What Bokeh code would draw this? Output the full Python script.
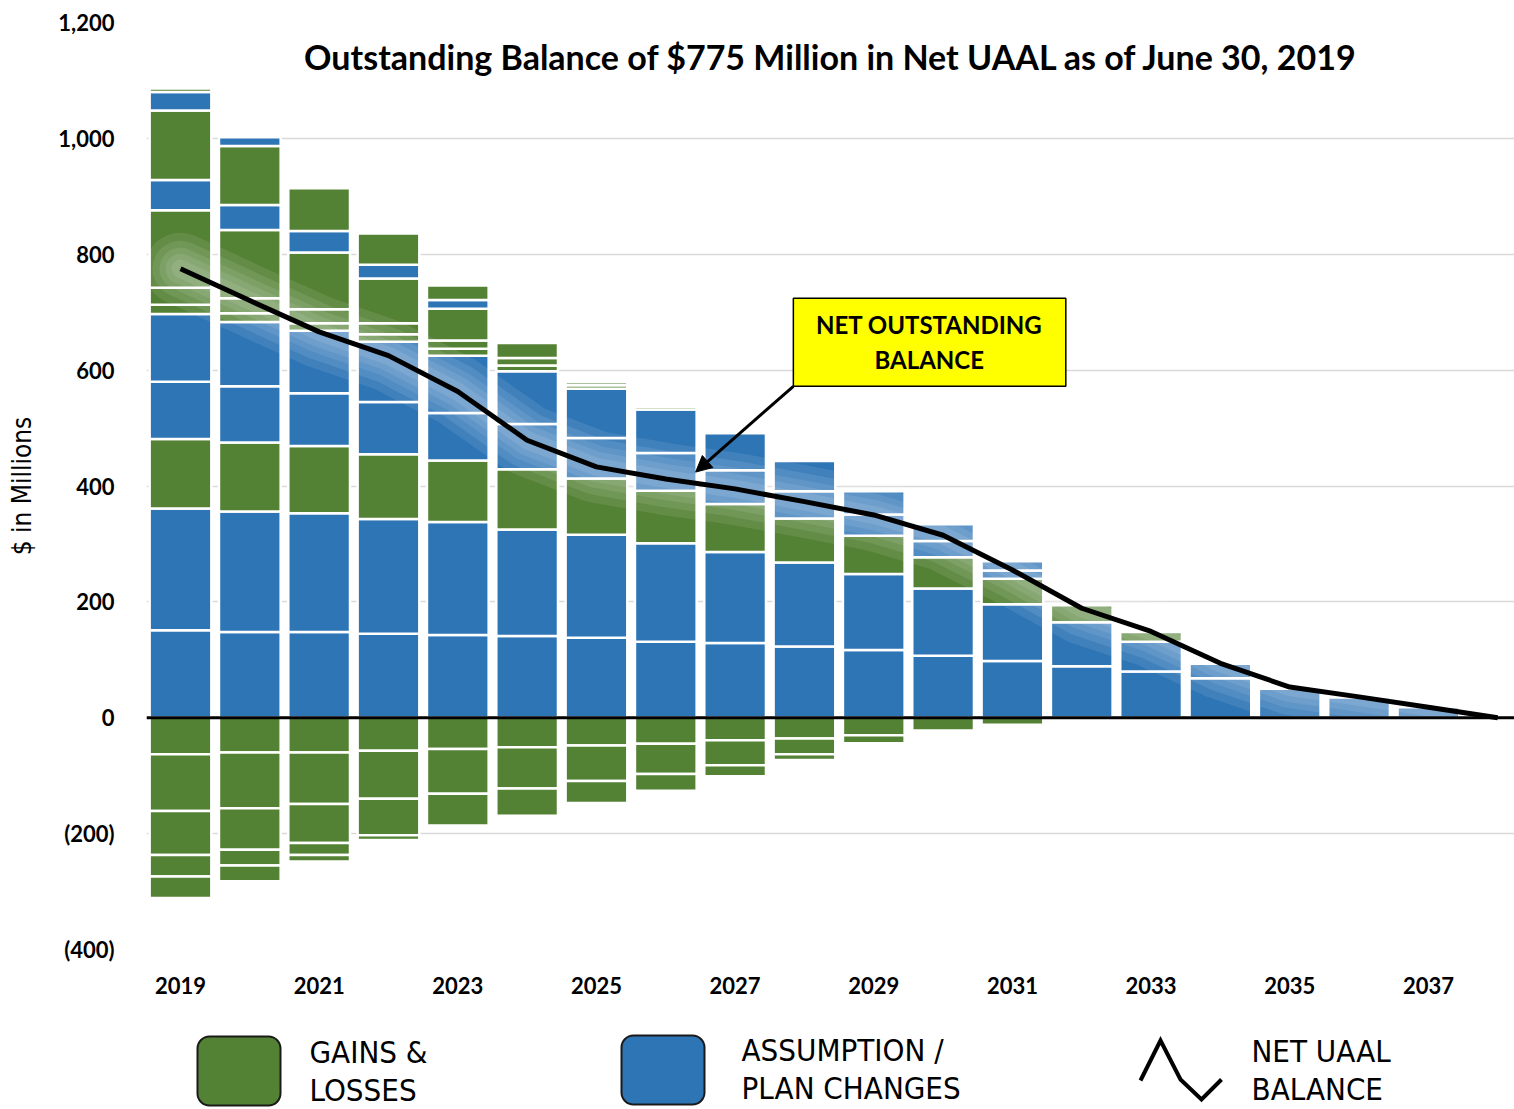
from bokeh.plotting import figure
from bokeh.models import ColumnDataSource, Range1d, FixedTicker, Span, Label, Arrow, NormalHead
from bokeh.layouts import column
from bokeh.embed import file_html
from bokeh.resources import INLINE
from bokeh.core.properties import value

# ---------------- data ----------------
years = list(range(2019, 2039))

# positive amortization layers, stacked bottom-up ($ millions)
layer_01 = [151, 148, 148, 145, 143, 141, 138, 131, 129, 123, 117, 107, 98, 89, 80, 68, 50, 35, 18, 0]
layer_02 = [210, 208, 205, 198, 195, 184, 178, 170, 157, 145, 131, 116, 98, 76, 51, 25, 0, 0, 0, 0]
layer_03 = [120, 119, 116, 112, 106, 104, 97, 91, 83, 76, 66, 54, 44, 29, 17, 0, 0, 0, 0, 0]
layer_04 = [99, 97, 91, 90, 82, 78, 70, 65, 58, 47, 37, 28, 14, 0, 0, 0, 0, 0, 0, 0]
layer_05 = [117, 111, 108, 104, 99, 91, 85, 75, 64, 52, 40, 29, 16, 0, 0, 0, 0, 0, 0, 0]
layer_06 = [16, 15, 13, 13, 12, 10, 6, 5, 0, 0, 0, 0, 0, 0, 0, 0, 0, 0, 0, 0]
layer_07 = [29, 26, 24, 19, 14, 13, 5, 0, 0, 0, 0, 0, 0, 0, 0, 0, 0, 0, 0, 0]
layer_08 = [134, 118, 98, 77, 55, 26, 0, 0, 0, 0, 0, 0, 0, 0, 0, 0, 0, 0, 0, 0]
layer_09 = [52, 43, 37, 24, 15, 0, 0, 0, 0, 0, 0, 0, 0, 0, 0, 0, 0, 0, 0, 0]
layer_10 = [120, 102, 74, 54, 25, 0, 0, 0, 0, 0, 0, 0, 0, 0, 0, 0, 0, 0, 0, 0]
layer_11 = [32, 15, 0, 0, 0, 0, 0, 0, 0, 0, 0, 0, 0, 0, 0, 0, 0, 0, 0, 0]
layer_12 = [6, 0, 0, 0, 0, 0, 0, 0, 0, 0, 0, 0, 0, 0, 0, 0, 0, 0, 0, 0]
pos_layers = [layer_01, layer_02, layer_03, layer_04, layer_05, layer_06,
              layer_07, layer_08, layer_09, layer_10, layer_11, layer_12]
pos_kinds = ["plan", "plan", "gain", "plan", "plan", "gain",
             "gain", "gain", "plan", "gain", "plan", "gain"]

# negative (gain) layers, stacked downward from zero (magnitudes)
neg_01 = [63, 60, 60, 57, 54, 51, 48, 45, 39, 36, 30, 22, 12, 4, 0, 0, 0, 0, 0, 0]
neg_02 = [98, 96, 89, 83, 77, 71, 61, 52, 43, 27, 14, 0, 0, 0, 0, 0, 0, 0, 0, 0]
neg_03 = [76, 72, 67, 63, 55, 47, 38, 29, 19, 10, 0, 0, 0, 0, 0, 0, 0, 0, 0, 0]
neg_04 = [37, 27, 21, 8, 0, 0, 0, 0, 0, 0, 0, 0, 0, 0, 0, 0, 0, 0, 0, 0]
neg_05 = [37, 27, 11, 0, 0, 0, 0, 0, 0, 0, 0, 0, 0, 0, 0, 0, 0, 0, 0, 0]
neg_layers = [neg_01, neg_02, neg_03, neg_04, neg_05]

net_balance = [775, 720, 666, 625, 563, 479, 433, 412, 395, 373, 350, 315, 255, 189, 149, 94, 53, 36, 18, 0]

y_ticks = [-400, -200, 0, 200, 400, 600, 800, 1000, 1200]
y_tick_labels = {-400: "(400)", -200: "(200)", 0: "0", 200: "200", 400: "400",
                 600: "600", 800: "800", 1000: "1,000", 1200: "1,200"}
x_ticks = [2019, 2021, 2023, 2025, 2027, 2029, 2031, 2033, 2035, 2037]

title_text = "Outstanding  Balance of $775 Million in Net UAAL as of June 30, 2019"
y_axis_title = "$ in Millions"
callout_lines = ["NET OUTSTANDING", "BALANCE"]
legend_texts = ["GAINS &", "LOSSES", "ASSUMPTION /", "PLAN CHANGES", "NET UAAL", "BALANCE"]

GREEN = "#548235"
BLUE = "#2E75B6"
kind_color = {"gain": GREEN, "plan": BLUE}

# ---------------- build segments ----------------
seg = dict(x=[], bottom=[], top=[], color=[])
for i, yr in enumerate(years):
    cum = 0
    for layer, kind in zip(pos_layers, pos_kinds):
        v = layer[i]
        if v > 0:
            seg["x"].append(yr); seg["bottom"].append(cum); seg["top"].append(cum + v)
            seg["color"].append(kind_color[kind]); cum += v
    cum = 0
    for layer in neg_layers:
        v = layer[i]
        if v > 0:
            seg["x"].append(yr); seg["bottom"].append(cum - v); seg["top"].append(cum)
            seg["color"].append(GREEN); cum -= v
src = ColumnDataSource(seg)

TICK_FONT = "Lato"
NARROW = "DejaVu Sans Condensed"

MAIN_H = 1020
LEG_H = 89

p = figure(width=1514, height=MAIN_H, x_range=Range1d(2018.5096, 2038.242),
           y_range=Range1d(-400, 1200), output_backend="svg", toolbar_location=None,
           min_border_left=146, min_border_right=0, min_border_top=22,
           min_border_bottom=MAIN_H - 949)
p.outline_line_color = None
p.background_fill_color = "white"
p.xgrid.visible = False
p.ygrid.ticker = FixedTicker(ticks=y_ticks)
p.ygrid.grid_line_color = "#d9d9d9"
p.ygrid.grid_line_width = 1.5

p.yaxis.ticker = FixedTicker(ticks=y_ticks)
p.yaxis.major_label_overrides = y_tick_labels
p.xaxis.ticker = FixedTicker(ticks=x_ticks)
for ax in (p.xaxis, p.yaxis):
    ax.axis_line_color = None
    ax.major_tick_line_color = None
    ax.minor_tick_line_color = None
    ax.major_label_text_font = TICK_FONT
    ax.major_label_text_font_style = "bold"
    ax.major_label_text_font_size = "22px"
    ax.major_label_text_color = "black"
p.yaxis.major_label_standoff = 26
p.xaxis.major_label_standoff = 21
p.yaxis.axis_label = y_axis_title
p.yaxis.axis_label_text_font = NARROW
p.yaxis.axis_label_text_font_style = "normal"
p.yaxis.axis_label_text_font_size = "26px"
p.yaxis.axis_label_text_color = "black"
p.yaxis.axis_label_standoff = 18

p.vbar(x="x", bottom="bottom", top="top", width=0.89, fill_color="color",
       line_color="white", line_width=2.5, source=src)

# soft glow under the balance line
for w in (72, 56, 42, 30, 18):
    p.line(years, net_balance, line_color="white", line_width=w, line_alpha=0.09,
           line_join="round", line_cap="round")

p.add_layout(Span(location=0, dimension="width", line_color="black", line_width=3))
p.line(years, net_balance, line_color="black", line_width=5, line_join="round")

p.add_layout(Label(x=2028.45, y=1141, text=title_text, text_align="center",
                   text_baseline="middle", text_font=TICK_FONT, text_font_style="bold",
                   text_font_size="34px", text_color="black"))

# callout box
p.quad(left=[2027.84], right=[2031.77], bottom=[572], top=[724],
       fill_color="#FFFF00", line_color="black", line_width=1.5)
p.text(x=[2029.8, 2029.8], y=[679, 619], text=callout_lines, text_align="center",
       text_baseline="middle", text_font=value(TICK_FONT), text_font_style="bold",
       text_font_size="24px", text_color="black")
p.add_layout(Arrow(end=NormalHead(size=16, fill_color="black", line_color="black"),
                   x_start=2027.84, y_start=572, x_end=2026.43, y_end=424,
                   line_color="black", line_width=3))

# ---------------- legend strip (coordinates in page pixels) ----------------
lf = figure(width=1514, height=LEG_H, x_range=Range1d(146, 1514),
            y_range=Range1d(MAIN_H + LEG_H, MAIN_H),
            output_backend="svg", toolbar_location=None, min_border=0,
            min_border_left=146, min_border_right=0)
lf.outline_line_color = None
lf.axis.visible = False
lf.grid.visible = False
lf.quad(left=[197], right=[280], top=[1036], bottom=[1105], fill_color=GREEN,
        line_color="#1a1a1a", line_width=2, border_radius=12)
lf.quad(left=[621], right=[704], top=[1035], bottom=[1104], fill_color=BLUE,
        line_color="#1a1a1a", line_width=2, border_radius=12)
lf.line([1140, 1160, 1180, 1201, 1221], [1080, 1040, 1079, 1099, 1079], line_color="black",
        line_width=4, line_join="miter")
lf.text(x=[309, 309, 741, 741, 1251, 1251], y=[1051, 1089, 1049, 1087, 1050, 1088],
        text=legend_texts, text_align="left", text_baseline="middle",
        text_font=value(NARROW), text_font_size="31px", text_color="black")

layout = column(p, lf, spacing=0)
open("out.html", "w").write(file_html(layout, INLINE))
